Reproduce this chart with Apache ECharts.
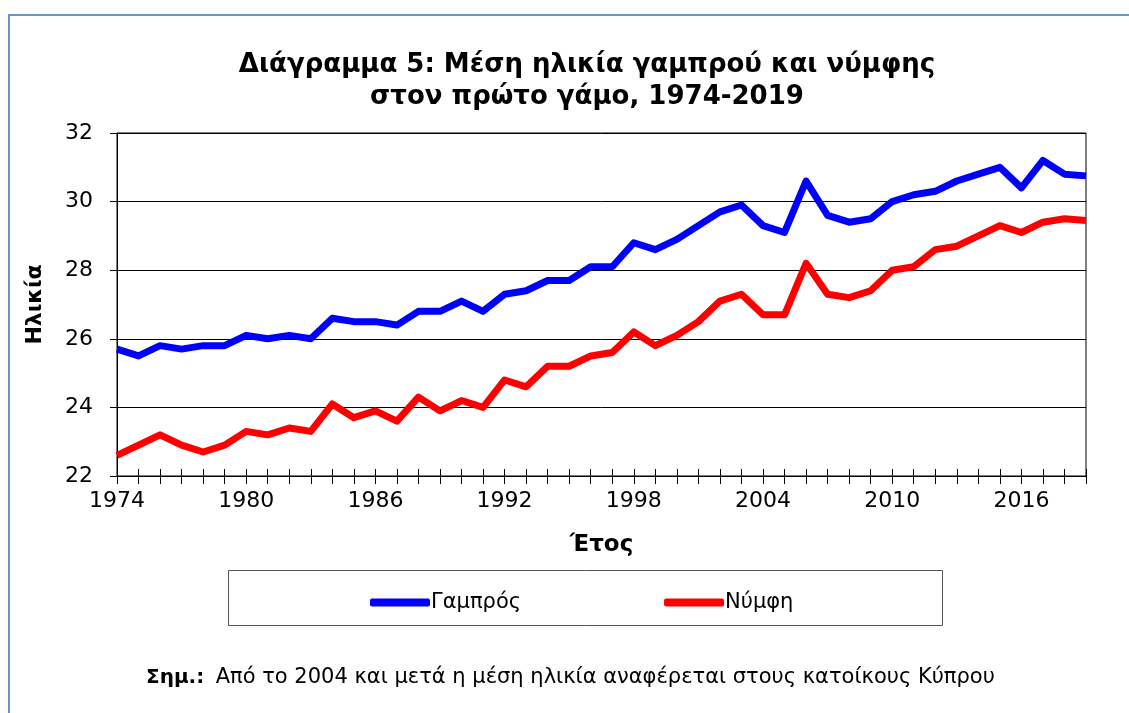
<!DOCTYPE html>
<html>
<head>
<meta charset="utf-8">
<script src="https://cdn.jsdelivr.net/npm/echarts@6/dist/echarts.min.js"></script>
<style>
  html, body { margin: 0; padding: 0; background: #fff; }
  #chart { width: 1129px; height: 713px; }
</style>
</head>
<body>
<div id="chart"></div>
<script>
// Data
const years = [];
for (let y = 1974; y <= 2019; y++) years.push(String(y));

const groomAge = [
  25.7, 25.5, 25.8, 25.7, 25.8, 25.8, 26.1, 26.0, 26.1, 26.0,
  26.6, 26.5, 26.5, 26.4, 26.8, 26.8, 27.1, 26.8, 27.3, 27.4,
  27.7, 27.7, 28.1, 28.1, 28.8, 28.6, 28.9, 29.3, 29.7, 29.9,
  29.3, 29.1, 30.6, 29.6, 29.4, 29.5, 30.0, 30.2, 30.3, 30.6,
  30.8, 31.0, 30.4, 31.2, 30.8, 30.75
];
const brideAge = [
  22.6, 22.9, 23.2, 22.9, 22.7, 22.9, 23.3, 23.2, 23.4, 23.3,
  24.1, 23.7, 23.9, 23.6, 24.3, 23.9, 24.2, 24.0, 24.8, 24.6,
  25.2, 25.2, 25.5, 25.6, 26.2, 25.8, 26.1, 26.5, 27.1, 27.3,
  26.7, 26.7, 28.2, 27.3, 27.2, 27.4, 28.0, 28.1, 28.6, 28.7,
  29.0, 29.3, 29.1, 29.4, 29.5, 29.45
];
const seriesNames = ['Γαμπρός', 'Νύμφη'];

const FONT = 'DejaVu Sans, Verdana, sans-serif';

const chart = echarts.init(document.getElementById('chart'));

chart.setOption({
  animation: false,
  backgroundColor: '#fff',
  textStyle: { fontFamily: FONT, color: '#000' },
  title: [
    {
      text: 'Διάγραμμα 5: Μέση ηλικία γαμπρού και νύμφης\nστον πρώτο γάμο, 1974-2019',
      left: 582,
      top: 44,
      textAlign: 'center',
      textStyle: { fontSize: 26, fontWeight: 'bold', lineHeight: 32, fontFamily: FONT, color: '#000' }
    },
    {
      text: '{b|Σημ.:}  {n|Από το 2004 και μετά η μέση ηλικία αναφέρεται στους κατοίκους Κύπρου}',
      left: 141,
      top: 662,
      textStyle: {
        fontWeight: 'normal',
        rich: {
          b: { fontSize: 20, fontWeight: 'bold', fontFamily: FONT, color: '#000' },
          n: { fontSize: 21, fontWeight: 'normal', fontFamily: FONT, color: '#000' }
        }
      }
    }
  ],
  graphic: [
    {
      type: 'rect',
      shape: { x: 9, y: 15, width: 1140, height: 720 },
      style: { fill: 'none', stroke: '#6b93c9', lineWidth: 2 },
      silent: true
    },
    {
      type: 'rect',
      shape: { x: 228.5, y: 570.5, width: 714, height: 55 },
      style: { fill: 'none', stroke: '#555', lineWidth: 1 },
      silent: true
    }
  ],
  legend: {
    data: seriesNames,
    left: 365,
    top: 587,
    itemWidth: 60,
    itemHeight: 8,
    itemGap: 143,
    textStyle: { fontSize: 21, fontFamily: FONT, color: '#000', padding: [0, 0, 0, -4] },
    icon: 'roundRect'
  },
  grid: {
    left: 117,
    right: 43,
    top: 133,
    bottom: 237,
    show: true,
    borderColor: '#000',
    borderWidth: 1,
    containLabel: false
  },
  xAxis: [
    {
      type: 'category',
      data: years,
      boundaryGap: false,
      name: 'Έτος',
      nameLocation: 'middle',
      nameGap: 58,
      nameTextStyle: { fontSize: 23, fontWeight: 'bold', fontFamily: FONT, color: '#000' },
      axisLine: { lineStyle: { color: '#000', width: 1 } },
      axisTick: { show: true, interval: 0, length: 8, lineStyle: { color: '#000' } },
      axisLabel: { interval: 5, fontSize: 22, margin: 14, color: '#000', fontFamily: FONT },
      splitLine: { show: false }
    },
    {
      type: 'category',
      data: years,
      boundaryGap: false,
      position: 'bottom',
      offset: 0,
      axisLine: { show: false },
      axisTick: { show: true, inside: true, interval: 0, length: 7, lineStyle: { color: '#000' } },
      axisLabel: { show: false },
      splitLine: { show: false }
    }
  ],
  yAxis: {
    type: 'value',
    min: 22,
    max: 32,
    interval: 2,
    name: 'Ηλικία',
    nameLocation: 'middle',
    nameGap: 71,
    nameRotate: 90,
    nameTextStyle: { fontSize: 22, fontWeight: 'bold', fontFamily: FONT, color: '#000' },
    axisLine: { show: true, lineStyle: { color: '#000', width: 1 } },
    axisTick: { show: true, length: 7, lineStyle: { color: '#000' } },
    axisLabel: { fontSize: 22, margin: 24, color: '#000', fontFamily: FONT },
    splitLine: { show: true, lineStyle: { color: '#000', width: 1 } }
  },
  series: [
    {
      name: seriesNames[0],
      type: 'line',
      data: groomAge,
      symbol: 'none',
      color: '#0000ff',
      lineStyle: { color: '#0000ff', width: 7, join: 'round' }
    },
    {
      name: seriesNames[1],
      type: 'line',
      data: brideAge,
      symbol: 'none',
      color: '#ff0000',
      lineStyle: { color: '#ff0000', width: 7, join: 'round' }
    }
  ]
});
</script>
</body>
</html>
